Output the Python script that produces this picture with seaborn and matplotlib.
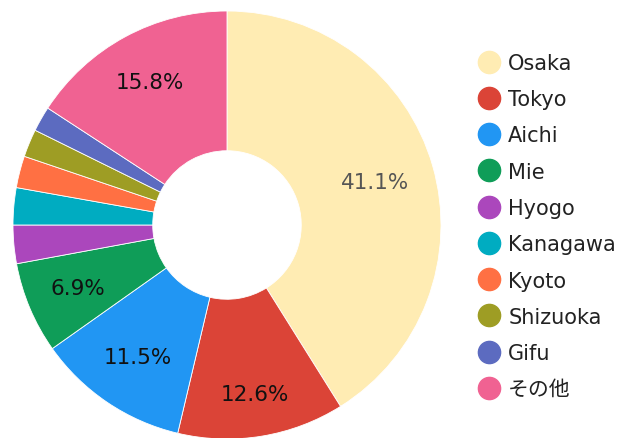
import matplotlib
matplotlib.use("Agg")
import matplotlib.pyplot as plt
from matplotlib.lines import Line2D
import numpy as np
import seaborn as sns

labels = ["Osaka", "Tokyo", "Aichi", "Mie", "Hyogo", "Kanagawa", "Kyoto", "Shizuoka", "Gifu", "その他"]
values = [41.1, 12.6, 11.5, 6.9, 2.9, 2.8, 2.4, 2.1, 1.9, 15.8]
colors = ["#FFECB3", "#DB4437", "#2196F3", "#0F9D58", "#AB47BC",
          "#00ACC1", "#FF7043", "#9E9D24", "#5C6BC0", "#F06292"]

sns.set_theme(style="white")
plt.rcParams["font.family"] = ["DejaVu Sans", "Noto Sans CJK JP"]

fig = plt.figure(figsize=(6.24, 4.39), dpi=100)
ax = fig.add_axes([13 / 624, -1 / 439, 428 / 624, 428 / 439])

wedges, texts, autotexts = ax.pie(
    values, colors=colors, startangle=90, counterclock=False,
    radius=1.0, autopct=lambda p: f"{p:.1f}%" if p >= 5 else "",
    pctdistance=0.75,
    wedgeprops=dict(width=0.653, edgecolor="white", linewidth=0.6),
    textprops=dict(fontsize=15.5, color="#111111"),
)

# label radial distances (styling only)
label_dist = [0.72, 0.80, 0.745, 0.755, 0.75, 0.75, 0.75, 0.75, 0.75, 0.76]
for w, t, d in zip(wedges, autotexts, label_dist):
    ang = np.deg2rad((w.theta1 + w.theta2) / 2)
    t.set_position((d * np.cos(ang), d * np.sin(ang)))
    t.set_ha("center"); t.set_va("center")
autotexts[0].set_color("#555555")

ax.set_xlim(-1, 1)
ax.set_ylim(-1, 1)
ax.set_aspect("equal")
ax.axis("off")

handles = [Line2D([0], [0], marker="o", linestyle="", markersize=16,
                  markerfacecolor=c, markeredgecolor=c) for c in colors]
fig.legend(handles, labels, loc="upper left",
           bbox_to_anchor=(476 / 624, 1 - 54 / 439), frameon=False,
           fontsize=15, labelspacing=0.78, handletextpad=0.35,
           handlelength=1.2, borderaxespad=0, borderpad=0,
           labelcolor="#222222")

fig.savefig("out.png", dpi=100)
